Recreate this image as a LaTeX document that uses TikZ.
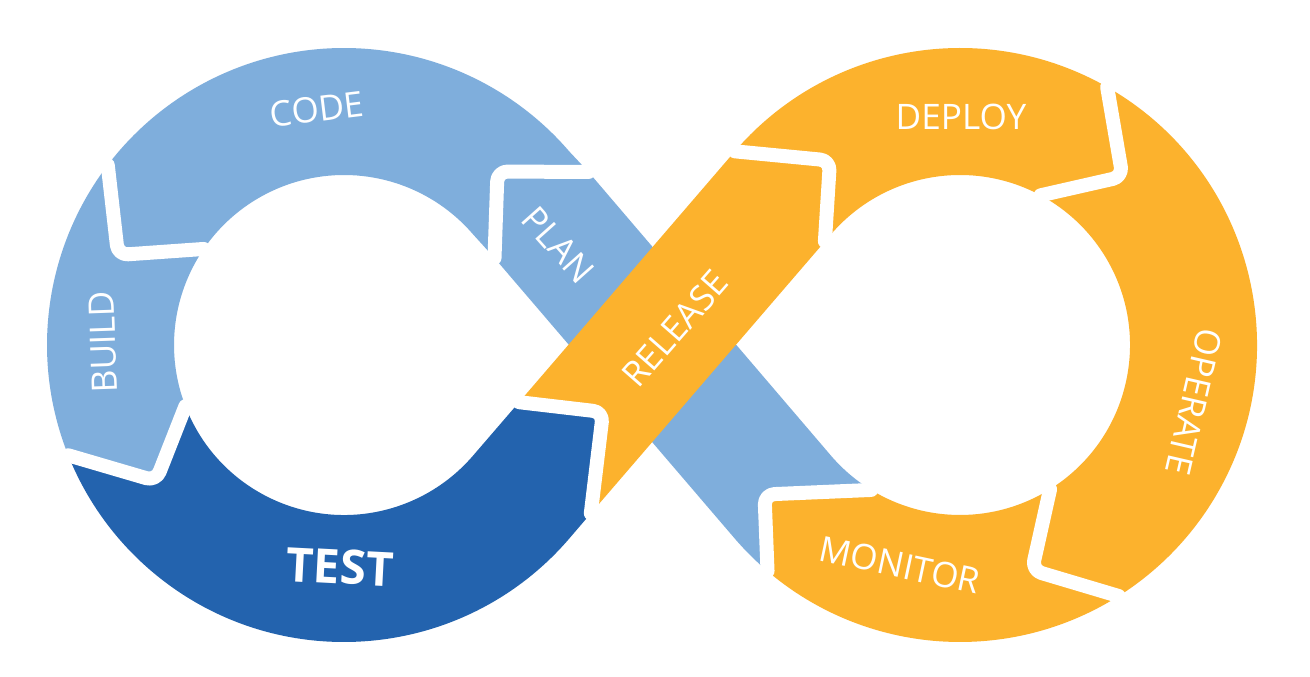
\documentclass[tikz,border=0pt]{standalone}
\usepackage{fontspec}
\setmainfont{Open Sans}
\usetikzlibrary{calc}
\definecolor{lblue}{RGB}{127,174,220}
\definecolor{dblue}{RGB}{35,99,174}
\definecolor{orng}{RGB}{252,178,45}
\begin{document}
\begin{tikzpicture}[x=0.02cm,y=0.02cm,
  gap/.style={draw=white, line width=0.28cm, line join=round, line cap=round, rounded corners=0.2cm},
  lbl/.style={text=white, font=\fontsize{20}{24}\selectfont, inner sep=0pt},
  bigl/.style={text=white, font=\fontsize{27}{32}\selectfont\bfseries, inner sep=0pt}]
\useasboundingbox (0,0) rectangle (1310,676);
\fill[white] (0,0) rectangle (1310,676);
% centres
\coordinate (L) at (344,331);
\coordinate (R) at (960,331);
% boundaries: o = outer base, t = tip, i = inner base
\coordinate (PCo) at (588.5,504);
\coordinate (PCt) at (497.5,504.5);
\coordinate (PCi) at (494.5,418);
\coordinate (CBo) at ($(L)+(142.7:297)$);
\coordinate (CBt) at (118,421);
\coordinate (CBi) at ($(L)+(145.6:170)$);
\coordinate (BTo) at ($(L)+(201.8:297)$);
\coordinate (BTt) at (156,195);
\coordinate (BTi) at ($(L)+(201.1:170)$);
\coordinate (TRo) at (590.8,162.6);
\coordinate (TRt) at (603,264);
\coordinate (TRi) at (519.1,273.8);
\coordinate (RDo) at ($(R)+(139.3:297)$);
\coordinate (RDt) at (830,515.5);
\coordinate (RDi) at (824.9,434.6);
\coordinate (DOo) at ($(R)+(60.3:297)$);
\coordinate (DOt) at (1122.5,499.3);
\coordinate (DOi) at ($(R)+(61.7:170)$);
\coordinate (OMo) at ($(R)+(-57.7:297)$);
\coordinate (OMt) at (1032,105.8);
\coordinate (OMi) at ($(R)+(-58:170)$);
\coordinate (MPo) at ($(R)+(-130.4:297)$);
\coordinate (MPt) at (764.5,181.5);
\coordinate (MPi) at ($(R)+(-121.5:170)$);
% PLAN (under RELEASE)
\fill[lblue] (MPo) -- (MPt) -- (MPi) arc[start angle=-121.5, end angle=-139.3, radius=170]
  -- (PCo) -- (PCt) -- (PCi) -- ($(R)+(-139.3:297)$) arc[start angle=-139.3, end angle=-130.4, radius=297] -- cycle;
% CODE
\fill[lblue] (PCo) -- (PCt) -- (PCi) -- ($(L)+(40.7:170)$) arc[start angle=40.7, end angle=145.6, radius=170]
  -- (CBt) -- (CBo) arc[start angle=142.7, end angle=40.7, radius=297] -- cycle;
% BUILD
\fill[lblue] (CBo) -- (CBt) -- (CBi) arc[start angle=145.6, end angle=201.1, radius=170]
  -- (BTt) -- (BTo) arc[start angle=201.8, end angle=142.7, radius=297] -- cycle;
% TEST
\fill[dblue] (BTo) -- (BTt) -- (BTi) arc[start angle=201.1, end angle=319.3, radius=170]
  -- (TRi) -- (TRt) -- (TRo) -- ($(L)+(319.3:297)$) arc[start angle=319.3, end angle=201.8, radius=297] -- cycle;
% DEPLOY
\fill[orng] (RDi) -- (RDt) -- (RDo) arc[start angle=139.3, end angle=60.3, radius=297]
  -- (DOt) -- (DOi) arc[start angle=61.7, end angle=139.3, radius=170] -- cycle;
% OPERATE
\fill[orng] (DOo) arc[start angle=60.3, end angle=-57.7, radius=297]
  -- (OMt) -- (OMi) arc[start angle=-58, end angle=61.7, radius=170] -- (DOt) -- cycle;
% MONITOR
\fill[orng] (OMo) arc[start angle=-57.7, end angle=-130.4, radius=297]
  -- (MPt) -- (MPi) arc[start angle=-121.5, end angle=-58, radius=170] -- (OMt) -- cycle;
% RELEASE (on top)
\fill[orng] (TRi) -- (TRt) -- (TRo) -- (RDi) -- (RDt) -- (RDo) -- cycle;
% white gaps
\draw[gap] (PCo) -- (PCt) -- (PCi);
\draw[gap] (CBo) -- (CBt) -- (CBi);
\draw[gap] (BTo) -- (BTt) -- (BTi);
\draw[gap] (TRo) -- (TRt) -- (TRi);
\draw[gap] (RDo) -- (RDt) -- (RDi);
\draw[gap] (DOo) -- (DOt) -- (DOi);
\draw[gap] (OMo) -- (OMt) -- (OMi);
\draw[gap] (MPo) -- (MPt) -- (MPi);
% labels
\node[lbl, rotate=7] (code) at (317,567) {CODE};
\node[lbl, rotate=92] (build) at (103,334) {BUILD};
\node[bigl, rotate=-3] (test) at (340,109) {TEST};
\node[lbl, rotate=-48.3] (plan) at (558.5,431) {PLAN};
\node[lbl, rotate=48.8] (release) at (675,347.5) {RELEASE};
\node[lbl] (deploy) at (961,559) {DEPLOY};
\node[lbl, rotate=-103] (operate) at (1194,274) {OPERATE};
\node[lbl, rotate=-12] (monitor) at (900,111) {MONITOR};
\end{tikzpicture}
\end{document}
